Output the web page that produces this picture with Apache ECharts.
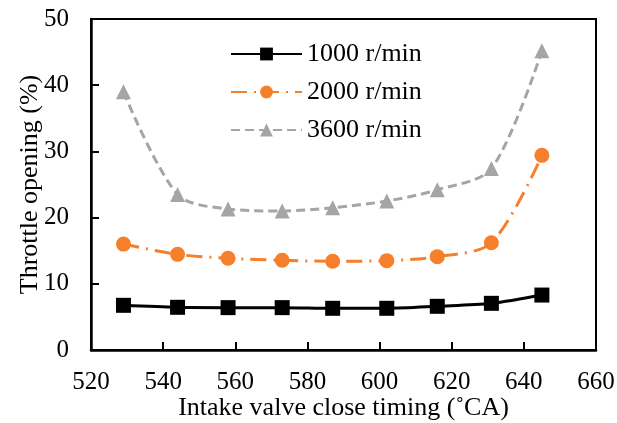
<!DOCTYPE html>
<html>
<head>
<meta charset="utf-8">
<script src="https://cdn.jsdelivr.net/npm/echarts@6/dist/echarts.min.js"></script>
<style>
  html, body { margin: 0; padding: 0; background: #fff; }
  #chart { width: 617px; height: 423px; }
</style>
</head>
<body>
<div id="chart"></div>
<script>
// Intake valve close timing (°CA)
const ivcTiming = [529, 544, 558, 573, 587, 602, 616, 631, 645];
// Throttle opening (%) per engine speed
const speed1000 = [6.75, 6.45, 6.4, 6.4, 6.3, 6.3, 6.6, 7.05, 8.3];
const speed2000 = [16.0, 14.45, 13.85, 13.55, 13.4, 13.5, 14.1, 16.2, 29.4];
const speed3600 = [39.0, 23.5, 21.3, 21.0, 21.5, 22.5, 24.2, 27.4, 45.2];
const seriesNames = ['1000 r/min', '2000 r/min', '3600 r/min'];

const font = 'Liberation Serif, Times New Roman, serif';
const pairs = (ys) => ivcTiming.map((x, i) => [x, ys[i]]);

const chart = echarts.init(document.getElementById('chart'));
chart.setOption({
  animation: false,
  backgroundColor: '#fff',
  grid: {
    left: 91, top: 19, right: 21, bottom: 73,
    outerBoundsMode: 'none',
    show: true, borderColor: '#000', borderWidth: 2
  },
  legend: {
    orient: 'vertical',
    left: 225, top: 36,
    itemWidth: 71, itemHeight: 16, itemGap: 12,
    textStyle: { fontFamily: font, fontSize: 26, color: '#000' },
    data: seriesNames
  },
  xAxis: {
    type: 'value', min: 520, max: 660, interval: 20,
    name: 'Intake valve close timing (˚CA)',
    nameLocation: 'middle', nameGap: 45, nameMoveOverlap: false,
    nameTextStyle: { fontFamily: font, fontSize: 26, color: '#000' },
    axisLine: { lineStyle: { color: '#000', width: 2.5 } },
    axisTick: { inside: true, length: 8, lineStyle: { color: '#000', width: 2 } },
    axisLabel: { fontFamily: font, fontSize: 25, color: '#000', margin: 20 },
    splitLine: { show: false }
  },
  yAxis: {
    type: 'value', min: 0, max: 50, interval: 10,
    name: 'Throttle opening (%)',
    nameLocation: 'middle', nameGap: 48, nameMoveOverlap: false,
    nameTextStyle: { fontFamily: font, fontSize: 26, color: '#000' },
    axisLine: { show: true, lineStyle: { color: '#000', width: 2.5 } },
    axisTick: { show: true, inside: true, length: 8, lineStyle: { color: '#000', width: 2 } },
    axisLabel: { fontFamily: font, fontSize: 25, color: '#000', margin: 22 },
    splitLine: { show: false }
  },
  series: [
    {
      name: seriesNames[0], type: 'line', smooth: 0.3,
      data: pairs(speed1000),
      symbol: 'rect', symbolSize: 15,
      itemStyle: { color: '#000' },
      lineStyle: { color: '#000', width: 3 }
    },
    {
      name: seriesNames[1], type: 'line', smooth: 0.3,
      data: pairs(speed2000),
      symbol: 'circle', symbolSize: 15,
      itemStyle: { color: '#F57F2A' },
      lineStyle: { color: '#F57F2A', width: 3, type: [16, 7, 2, 7] }
    },
    {
      name: seriesNames[2], type: 'line', smooth: 0.3,
      data: pairs(speed3600),
      symbol: 'triangle', symbolSize: 15,
      itemStyle: { color: '#A5A5A5' },
      lineStyle: { color: '#A5A5A5', width: 3, type: [9, 5] }
    }
  ]
});
</script>
</body>
</html>
